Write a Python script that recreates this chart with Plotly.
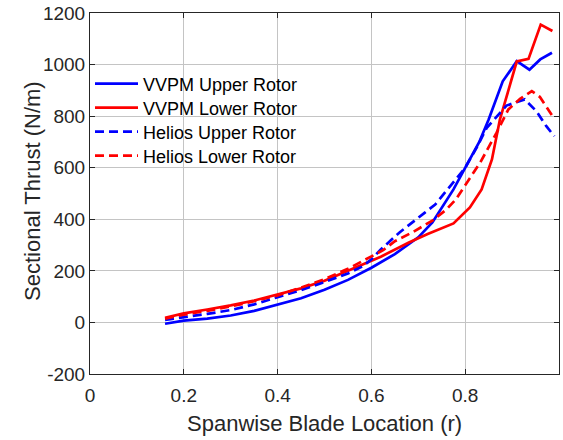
import plotly.graph_objects as go

# Spanwise station (r) and sectional thrust (N/m) for each rotor / solver
r_vvpm_upper = [0.16, 0.20, 0.25, 0.30, 0.35, 0.40, 0.45, 0.50, 0.55, 0.60, 0.65, 0.70,
                0.73, 0.775, 0.80, 0.83, 0.85, 0.88, 0.91, 0.937, 0.96, 0.985]
t_vvpm_upper = [-5, 7, 15, 27, 45, 68, 94, 127, 165, 212, 265, 330,
                388, 516, 600, 700, 787, 935, 1013, 980, 1020, 1046]

r_vvpm_lower = [0.16, 0.20, 0.25, 0.30, 0.35, 0.40, 0.45, 0.50, 0.55, 0.60, 0.62, 0.68,
                0.72, 0.775, 0.81, 0.835, 0.857, 0.874, 0.91, 0.935, 0.961, 0.986]
t_vvpm_lower = [18, 35, 50, 66, 85, 108, 132, 162, 200, 240, 255, 310,
                343, 384, 446, 516, 632, 787, 1012, 1022, 1155, 1130]

r_helios_upper = [0.16, 0.20, 0.25, 0.30, 0.35, 0.40, 0.45, 0.50, 0.55, 0.582, 0.60, 0.62,
                  0.66, 0.714, 0.736, 0.80, 0.825, 0.846, 0.888, 0.927, 0.952, 0.973, 0.99]
t_helios_upper = [10, 20, 33, 48, 70, 98, 125, 157, 190, 218, 245, 283,
                  349, 426, 457, 600, 680, 755, 841, 865, 819, 761, 722]

r_helios_lower = [0.16, 0.20, 0.25, 0.30, 0.35, 0.40, 0.45, 0.50, 0.55, 0.60, 0.625, 0.65,
                  0.69, 0.73, 0.76, 0.78, 0.832, 0.867, 0.892, 0.917, 0.942, 0.959, 0.977, 0.99]
t_helios_lower = [15, 30, 45, 62, 82, 105, 135, 168, 208, 255, 280, 315,
                  352, 395, 438, 477, 620, 736, 826, 867, 897, 875, 826, 790]

x_ticks = [0, 0.2, 0.4, 0.6, 0.8, 1]
y_ticks = [-200, 0, 200, 400, 600, 800, 1000, 1200]

BLUE = "#0000ff"
RED = "#ff0000"
INK = "#262626"
GRID = "#c4c4c4"
FONT = "Liberation Sans, Arial, Helvetica, sans-serif"
LW = 2.7
DASH = "9px,5px"

series = [
    ("VVPM Upper Rotor", r_vvpm_upper, t_vvpm_upper, BLUE, "solid"),
    ("VVPM Lower Rotor", r_vvpm_lower, t_vvpm_lower, RED, "solid"),
    ("Helios Upper Rotor", r_helios_upper, t_helios_upper, BLUE, DASH),
    ("Helios Lower Rotor", r_helios_lower, t_helios_lower, RED, DASH),
]

fig = go.Figure()
legend_ids = ["legend", "legend2", "legend3", "legend4"]
for (name, xs, ys, color, dash), lid in zip(series, legend_ids):
    fig.add_trace(go.Scatter(x=xs, y=ys, mode="lines", name=name, legend=lid,
                             line=dict(color=color, width=LW, dash=dash)))

axis_common = dict(
    showline=True, linecolor=INK, linewidth=1, mirror="ticks",
    ticks="inside", ticklen=5, tickcolor=INK, tickwidth=1,
    showgrid=True, gridcolor=GRID, gridwidth=1, zeroline=False,
    tickfont=dict(family=FONT, size=19, color=INK),
)

fig.update_xaxes(range=[0, 1], tickvals=x_ticks, ticktext=[f"{v:g}" for v in x_ticks],
                 ticklabelstandoff=4, **axis_common)
fig.update_yaxes(range=[-200, 1200], tickvals=y_ticks, ticktext=[str(v) for v in y_ticks],
                 **axis_common)

# One legend box per entry so that the rows sit on a fixed 24 px pitch
legend_style = dict(xanchor="left", yanchor="middle", x=0.0,
                    bgcolor="rgba(0,0,0,0)", borderwidth=0, itemwidth=43,
                    font=dict(family=FONT, size=18, color="#000000"))
plot_top, plot_h = 13, 361
row_centres = [84, 108, 132, 156]
legends = {}
for lid, yc in zip(legend_ids, row_centres):
    legends[lid] = dict(legend_style, y=1 - (yc - plot_top) / plot_h)

title_font = dict(family=FONT, size=22, color=INK)
fig.update_layout(
    width=563, height=440,
    margin=dict(l=90, r=4, t=13, b=66),
    paper_bgcolor="white", plot_bgcolor="white",
    showlegend=True,
    annotations=[
        dict(text="Spanwise Blade Location (r)", xref="paper", yref="paper",
             x=0.5, y=-0.136, xanchor="center", yanchor="middle",
             showarrow=False, font=title_font),
        dict(text="Sectional Thrust (N/m)", xref="paper", yref="paper",
             x=-0.1215, y=0.507, xanchor="center", yanchor="middle",
             textangle=-90, showarrow=False, font=title_font),
    ],
    **legends,
)

fig.write_html("out.html")
